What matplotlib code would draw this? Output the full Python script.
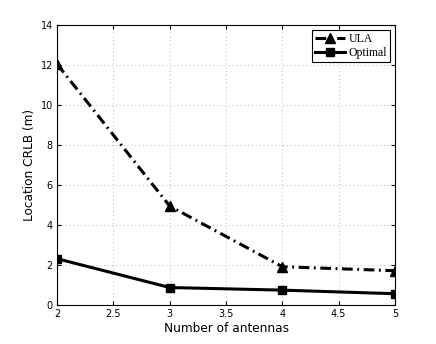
import numpy as np
import matplotlib.pyplot as plt

# data
antennas = [2, 3, 4, 5]
crlb_ula = [12.05, 4.95, 1.92, 1.72]
crlb_optimal = [2.32, 0.88, 0.75, 0.57]

fig = plt.figure(figsize=(4.36, 3.44), dpi=100)
ax = fig.add_axes([0.131, 0.113, 0.775, 0.814])

ax.plot(antennas, crlb_ula, color="black", linestyle=(0, (3.5, 1.5, 0.6, 1.5)),
        linewidth=2.2, marker="^", markersize=7, label="ULA")
ax.plot(antennas, crlb_optimal, color="black", linestyle="-", linewidth=2.2,
        marker="s", markersize=5.5, label="Optimal")

ax.set_xlim(2, 5)
ax.set_ylim(0, 14)
ax.set_xticks([2, 2.5, 3, 3.5, 4, 4.5, 5])
ax.set_xticklabels(["2", "2.5", "3", "3.5", "4", "4.5", "5"])
ax.set_yticks(np.arange(0, 15, 2))
ax.tick_params(direction="in", top=True, right=True, labelsize=7, length=3, pad=3)
ax.grid(True, linestyle=(0, (1, 3)), color="#b8b8b8", linewidth=0.7)
ax.set_axisbelow(True)

ax.set_xlabel("Number of antennas", fontsize=8.7, labelpad=2)
ax.set_ylabel("Location CRLB (m)", fontsize=8.7, labelpad=3)

for s in ax.spines.values():
    s.set_linewidth(0.8)

leg = ax.legend(loc="upper right", prop={"family": "Liberation Serif", "size": 8.5},
                fancybox=False, edgecolor="black", framealpha=1,
                handlelength=2.6, borderpad=0.25, labelspacing=0.2,
                handletextpad=0.3, borderaxespad=0.4)
leg.get_frame().set_linewidth(0.8)

fig.savefig("out.png", dpi=100)
